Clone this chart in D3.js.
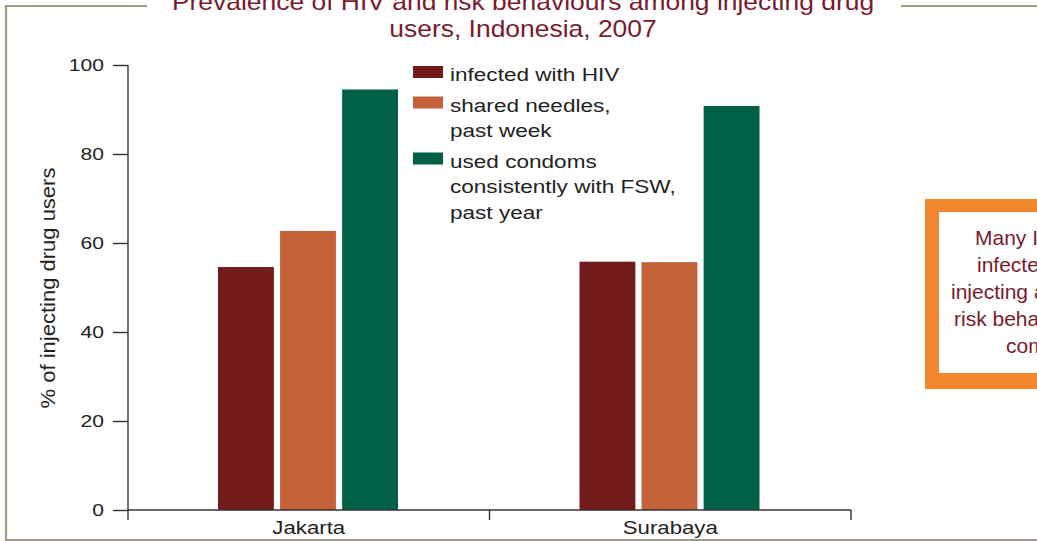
<!DOCTYPE html>
<html>
<head>
<meta charset="utf-8">
<script src="https://cdn.jsdelivr.net/npm/d3@7"></script>
<style>
  html, body { margin: 0; padding: 0; background: #fff; }
  svg { display: block; font-family: "Liberation Sans", Arial, Helvetica, sans-serif; }
</style>
</head>
<body>
<svg id="chart" width="1037" height="541"></svg>
<script>
// ---- data ----
const categories = ["Jakarta", "Surabaya"];
const seriesNames = ["infected with HIV", "shared needles, past week", "used condoms consistently with FSW, past year"];
const legendLines = [["infected with HIV"], ["shared needles,", "past week"], ["used condoms", "consistently with FSW,", "past year"]];
const hivValues = [54.6, 55.8];
const needleValues = [62.7, 55.7];
const condomValues = [94.5, 90.8];
const yTicks = [0, 20, 40, 60, 80, 100];
const titleLines = ["Prevalence of HIV and risk behaviours among injecting drug", "users, Indonesia, 2007"];
const yLabel = "% of injecting drug users";
const noteLines = ["Many IDUs are", "infected with HIV,", "injecting and sexual", "risk behaviours are", "common"];

// ---- styles ----
const colors = ["#731a1b", "#c4623a", "#006146"];
const seriesValues = [hivValues, needleValues, condomValues];
const frameColor = "#9d9b87";
const titleColor = "#7b1a2e";
const axisColor = "#333";
const textColor = "#222";

const svg = d3.select("#chart");

// frame
const frame = svg.append("g").attr("stroke", frameColor).attr("stroke-width", 2.2).attr("fill", "none");
frame.append("path").attr("d", "M147,6 H6 V540 H1037");
frame.append("path").attr("d", "M901,6 H1037");

// title
svg.append("g").selectAll("text").data(titleLines).join("text")
  .attr("transform", (d, i) => `translate(523,${10 + i * 27}) scale(1.15,1)`)
  .attr("text-anchor", "middle")
  .attr("fill", titleColor)
  .style("font-size", "23px")
  .text(d => d);

// scales
const y = d3.scaleLinear().domain([0, 100]).range([510, 65]);
const x0 = d3.scaleBand().domain(categories).range([128, 851]);
const x1 = d3.scaleBand().domain(d3.range(seriesNames.length)).range([90, 270]).paddingInner(0.1);

// bars
const groups = svg.append("g").selectAll("g").data(categories).join("g")
  .attr("transform", d => `translate(${x0(d)},0)`);
groups.selectAll("rect")
  .data((c, ci) => seriesValues.map((vals, si) => ({ si, v: vals[ci] })))
  .join("rect")
  .attr("x", d => x1(d.si))
  .attr("width", x1.bandwidth())
  .attr("y", d => y(d.v))
  .attr("height", d => y(0) - y(d.v))
  .attr("fill", d => colors[d.si]);

// y axis
const yAxis = svg.append("g").attr("transform", "translate(128,0)")
  .call(d3.axisLeft(y).tickValues(yTicks).tickSize(15).tickSizeOuter(0));
yAxis.select(".domain").attr("stroke", axisColor).attr("stroke-width", 1.4)
  .attr("d", `M0,${y(100)}V${y(0) + 10}`);
yAxis.selectAll(".tick line").attr("stroke", axisColor).attr("stroke-width", 1.4);
yAxis.selectAll(".tick text")
  .attr("x", -24 / 1.24)
  .attr("transform", "scale(1.24,1)")
  .attr("fill", textColor)
  .style("font-size", "17px")
  .style("font-family", "Liberation Sans, Arial, sans-serif");

// x axis
const xAxis = svg.append("g").attr("transform", `translate(0,${y(0)})`)
  .call(d3.axisBottom(x0).tickSize(0).tickSizeOuter(0).tickPadding(11));
xAxis.select(".domain").attr("stroke", axisColor).attr("stroke-width", 1.4)
  .attr("d", `M128,0H${x0.range()[1]}`);
xAxis.selectAll(".tick text")
  .attr("transform", "scale(1.2,1)")
  .attr("fill", textColor)
  .style("font-size", "18.5px")
  .style("font-family", "Liberation Sans, Arial, sans-serif");
// category boundary ticks
xAxis.selectAll(".bound").data(categories.slice(0).map(c => x0(c) + x0.bandwidth())).join("line")
  .attr("class", "bound")
  .attr("x1", d => d).attr("x2", d => d)
  .attr("y1", 0).attr("y2", 10)
  .attr("stroke", axisColor).attr("stroke-width", 1.4);

// y label
svg.append("text")
  .attr("transform", "translate(55,288) rotate(-90) scale(1.1,1)")
  .attr("text-anchor", "middle")
  .attr("fill", textColor)
  .style("font-size", "20px")
  .text(yLabel);

// legend
const legend = svg.append("g");
let base = 81;
legendLines.forEach((lines, i) => {
  legend.append("rect")
    .attr("x", 413).attr("y", base - 15)
    .attr("width", 30).attr("height", 12)
    .attr("fill", colors[i]);
  lines.forEach((t, j) => {
    legend.append("text")
      .attr("transform", `translate(450,${base + j * 25.5}) scale(1.22,1)`)
      .attr("fill", textColor)
      .style("font-size", "18.5px")
      .text(t);
  });
  base += lines.length * 25.5 + 5;
});

// note box (clipped at right edge)
svg.append("rect").attr("x", 925).attr("y", 199).attr("width", 300).attr("height", 190).attr("fill", "#f2872d");
svg.append("rect").attr("x", 939).attr("y", 212).attr("width", 300).attr("height", 161).attr("fill", "#fff");
const noteX = [975, 977, 951, 954, 1006];
svg.append("g").selectAll("text").data(noteLines).join("text")
  .attr("x", (d, i) => noteX[i])
  .attr("y", (d, i) => 245 + i * 27)
  .attr("fill", titleColor)
  .style("font-size", "21px")
  .text(d => d);
</script>
</body>
</html>
